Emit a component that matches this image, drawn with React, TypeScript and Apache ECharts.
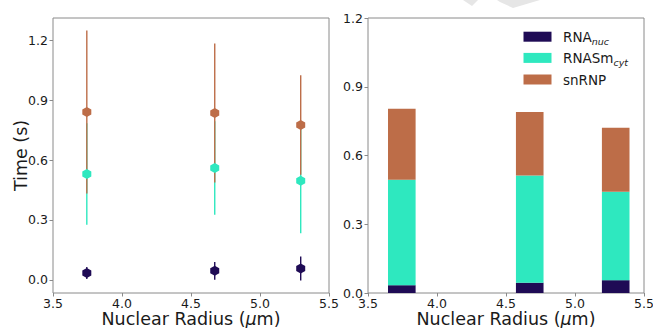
import React, { useEffect, useRef } from 'react';
import * as echarts from 'echarts';

// Left panel: mean ± error per nuclear radius
const radii = [3.745, 4.672, 5.295];
const nucMean = [0.034, 0.045, 0.057];
const nucErr = [0.030, 0.044, 0.060];
const cytMean = [0.530, 0.560, 0.496];
const cytErr = [0.254, 0.234, 0.262];
const snrnpMean = [0.841, 0.836, 0.776];
const snrnpErr = [0.408, 0.348, 0.249];

// Right panel: stacked segments
const barNuc = [0.034, 0.045, 0.056];
const barCyt = [0.460, 0.468, 0.386];
const barSnrnp = [0.310, 0.277, 0.279];
const barWidthUnits = 0.2;

const yTicks = [0, 0.3, 0.6, 0.9, 1.2];
const legendLabels = ['{a|RNA}{b|nuc}', '{a|RNASm}{b|cyt}', '{a|snRNP}'];

const C_NUC = '#1f0b55';
const C_CYT = '#2ee8bf';
const C_SN = '#bd6d48';
const legendColors = [C_NUC, C_CYT, C_SN];
const FONT = 'DejaVu Sans';
const TXT = '#1a1a1a';
const AX = '#8a8a8a';

const hexPath = 'path://M0,-1 L0.866,-0.5 L0.866,0.5 L0,1 L-0.866,0.5 L-0.866,-0.5 Z';

function errData(mean: number[], err: number[]) {
  return radii.map((x, i) => [x, mean[i] - err[i], mean[i] + err[i]]);
}

function errSeries(name: string, mean: number[], err: number[], color: string, z: number) {
  return {
    type: 'custom',
    name,
    xAxisIndex: 0,
    yAxisIndex: 0,
    z,
    encode: { x: 0, y: [1, 2] },
    data: errData(mean, err),
    renderItem: (params: any, api: any) => {
      const p1 = api.coord([api.value(0), api.value(1)]);
      const p2 = api.coord([api.value(0), api.value(2)]);
      return {
        type: 'line',
        shape: { x1: p1[0], y1: p1[1], x2: p2[0], y2: p2[1] },
        style: { stroke: color, lineWidth: 1.4 },
      };
    },
  };
}

function pointSeries(name: string, mean: number[], color: string) {
  return {
    type: 'scatter',
    name,
    xAxisIndex: 0,
    yAxisIndex: 0,
    z: 10,
    symbol: hexPath,
    symbolSize: [9, 10],
    itemStyle: { color, opacity: 1 },
    data: radii.map((x, i) => [x, mean[i]]),
  };
}

function stackSeries(name: string, bases: number[], vals: number[], color: string) {
  return {
    type: 'custom',
    name,
    xAxisIndex: 1,
    yAxisIndex: 1,
    itemStyle: { color },
    encode: { x: 0, y: [1, 2] },
    data: radii.map((x, i) => [x, bases[i], bases[i] + vals[i]]),
    renderItem: (params: any, api: any) => {
      const x = api.value(0);
      const p1 = api.coord([x - barWidthUnits / 2, api.value(2)]);
      const p2 = api.coord([x + barWidthUnits / 2, api.value(1)]);
      return {
        type: 'rect',
        shape: { x: p1[0], y: p1[1], width: p2[0] - p1[0], height: p2[1] - p1[1] },
        style: { fill: color },
      };
    },
  };
}

const xAxisCommon = (gridIndex: number) => ({
  type: 'value',
  gridIndex,
  min: 3.5,
  max: 5.5,
  interval: 0.5,
  name: '{t|Nuclear Radius (}{i|μ}{t|m)}',
  nameLocation: 'middle',
  nameGap: 17,
  nameMoveOverlap: false,
  nameTextStyle: {
    verticalAlign: 'top',
    lineHeight: 18,
    rich: {
      t: { fontFamily: FONT, fontSize: 17.5, color: TXT, lineHeight: 18 },
      i: { fontFamily: FONT, fontSize: 17.5, color: TXT, fontStyle: 'italic', lineHeight: 18 },
    },
  },
  axisLine: { show: false, onZero: false },
  axisTick: { show: true, length: 3.5, lineStyle: { color: AX } },
  splitLine: { show: false },
  axisLabel: {
    margin: 4,
    lineHeight: 12,
    fontFamily: FONT,
    fontSize: 12.5,
    color: TXT,
    formatter: (v: number) => v.toFixed(1),
  },
});

export default function App() {
  const ref = useRef<HTMLDivElement>(null);
  useEffect(() => {
    if (!ref.current) return;
    const chart = echarts.init(ref.current, undefined, { renderer: 'svg' });
    const bases1 = barNuc.map(() => 0);
    const bases2 = barNuc.slice();
    const bases3 = barNuc.map((v, i) => v + barCyt[i]);
    const legendRowY = [36.7, 57.9, 79.5];
    const legendGraphics: any[] = [];
    legendLabels.forEach((label, i) => {
      legendGraphics.push({
        type: 'rect',
        silent: true,
        shape: { x: 523.5, y: legendRowY[i] - 5, width: 28, height: 10 },
        style: { fill: legendColors[i] },
      });
      legendGraphics.push({
        type: 'text',
        silent: true,
        x: 563,
        y: legendRowY[i],
        style: {
          text: label,
          verticalAlign: 'middle',
          rich: {
            a: { fontFamily: FONT, fontSize: 13.5, fill: TXT, lineHeight: 19 },
            b: { fontFamily: FONT, fontSize: 9.5, fill: TXT, fontStyle: 'italic', verticalAlign: 'bottom', lineHeight: 11 },
          },
        },
      });
    });
    chart.setOption({
      animation: false,
      backgroundColor: '#ffffff',
      grid: [
        { left: 53, top: 18, width: 276, height: 275, show: true, borderColor: AX, borderWidth: 1, containLabel: false, outerBoundsMode: 'none' },
        { left: 368, top: 18, width: 276, height: 275, show: true, borderColor: AX, borderWidth: 1, containLabel: false, outerBoundsMode: 'none' },
      ],
      xAxis: [xAxisCommon(0), xAxisCommon(1)],
      yAxis: [
        {
          type: 'value',
          gridIndex: 0,
          min: -0.066,
          max: 1.312,
          name: 'Time (s)',
          nameLocation: 'middle',
          nameGap: 23,
          nameMoveOverlap: false,
          nameTextStyle: { fontFamily: FONT, fontSize: 17.5, color: TXT },
          axisLine: { show: false, onZero: false },
          splitLine: { show: false },
          axisTick: { show: true, length: 3.5, lineStyle: { color: AX }, customValues: yTicks },
          axisLabel: {
            customValues: yTicks,
            margin: 5,
            lineHeight: 12,
            fontFamily: FONT,
            fontSize: 12.5,
            color: TXT,
            formatter: (v: number) => v.toFixed(1),
          },
        },
        {
          type: 'value',
          gridIndex: 1,
          min: 0,
          max: 1.2,
          interval: 0.3,
          axisLine: { show: false, onZero: false },
          splitLine: { show: false },
          axisTick: { show: true, length: 3.5, lineStyle: { color: AX } },
          axisLabel: {
            margin: 5,
            lineHeight: 12,
            fontFamily: FONT,
            fontSize: 12.5,
            color: TXT,
            formatter: (v: number) => v.toFixed(1),
          },
        },
      ],
      graphic: [
        { type: 'polygon', silent: true, shape: { points: [[463, 0], [478, 0], [472, 6]] }, style: { fill: '#e6e6e6' } },
        { type: 'polygon', silent: true, shape: { points: [[497, 0], [540, 0], [513, 8], [500, 2]] }, style: { fill: '#e6e6e6' } },
        ...legendGraphics,
      ],
      series: [
        errSeries('nucErr', nucMean, nucErr, C_NUC, 2),
        errSeries('cytErr', cytMean, cytErr, C_CYT, 3),
        errSeries('snErr', snrnpMean, snrnpErr, C_SN, 4),
        pointSeries('nucPts', nucMean, C_NUC),
        pointSeries('cytPts', cytMean, C_CYT),
        pointSeries('snPts', snrnpMean, C_SN),
        stackSeries('RNAnuc', bases1, barNuc, C_NUC),
        stackSeries('RNASmcyt', bases2, barCyt, C_CYT),
        stackSeries('snRNP', bases3, barSnrnp, C_SN),
      ],
    });
    return () => chart.dispose();
  }, []);
  return (
    <div
      ref={ref}
      style={{ position: 'fixed', left: 0, top: 0, width: 653, height: 328, background: '#fff' }}
    />
  );
}
